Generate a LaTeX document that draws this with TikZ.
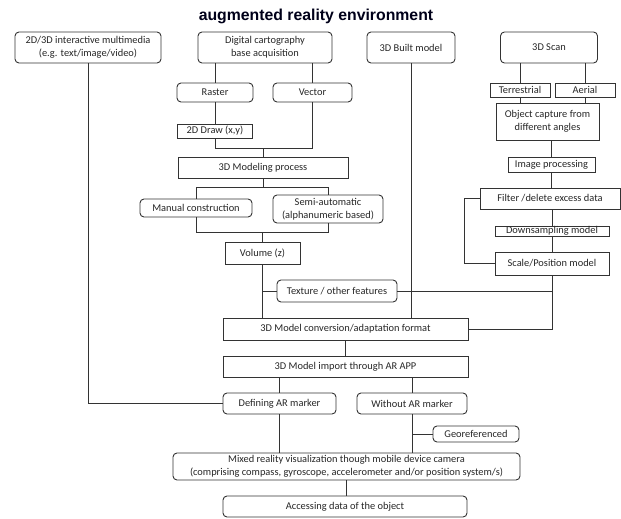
\documentclass[tikz,border=0pt]{standalone}
\usepackage{fontspec}
\setmainfont{Carlito}
\newfontfamily\titlefont{Liberation Sans}
\begin{document}
\begin{tikzpicture}[x=1pt,y=-1pt,
  base/.style={draw=black!80, line width=0.9pt, inner sep=0pt, align=center,
    font=\fontsize{10.4}{13}\selectfont, text=black!85},
  rbox/.style={base, rounded corners=4pt},
  sbox/.style={base},
  conn/.style={draw=black!80, line width=0.9pt}]
\useasboundingbox (0,0) rectangle (621,519);
\node[font=\titlefont\bfseries\fontsize{15.8}{18}\selectfont, text=black!90!blue] (title) at (316,16) {augmented reality environment};
% top row
\node[rbox, minimum width=146pt, minimum height=31pt] (mm) at (88,47.5) {2D/3D interactive multimedia\\(e.g. text/image/video)};
\node[rbox, minimum width=134pt, minimum height=31pt] (dc) at (265,47.5) {Digital cartography\\base acquisition};
\node[rbox, minimum width=88pt, minimum height=31pt] (bm) at (411,47.5) {3D Built model};
\node[rbox, minimum width=97pt, minimum height=31pt] (sc) at (549,47.5) {3D Scan};
% left branch
\node[rbox, minimum width=76pt, minimum height=19pt] (raster) at (215,92.5) {Raster};
\node[rbox, minimum width=79pt, minimum height=19pt] (vector) at (312.5,92.5) {Vector};
\node[sbox, minimum width=75pt, minimum height=14pt] (draw2d) at (215,131) {2D Draw (x,y)};
\node[sbox, minimum width=170pt, minimum height=21pt] (model) at (263,167.5) {3D Modeling process};
\node[rbox, minimum width=112pt, minimum height=18pt] (manual) at (196,208) {Manual construction};
\node[rbox, minimum width=110pt, minimum height=28pt] (semi) at (328,209) {Semi-automatic\\(alphanumeric based)};
\node[sbox, minimum width=75pt, minimum height=22pt] (volume) at (262.5,253) {Volume (z)};
\node[rbox, minimum width=120pt, minimum height=22pt] (texture) at (337,291) {Texture / other features};
% scan branch
\node[sbox, minimum width=60pt, minimum height=14pt] (terr) at (520,90) {Terrestrial};
\node[sbox, minimum width=60pt, minimum height=14pt] (aerial) at (585,90) {Aerial};
\node[sbox, minimum width=103pt, minimum height=37pt] (objcap) at (547.5,121.5) {Object capture from\\different angles};
\node[sbox, minimum width=87pt, minimum height=15pt] (imgp) at (551.5,164.5) {Image processing};
\node[sbox, minimum width=140pt, minimum height=21pt] (filter) at (550,198.5) {Filter /delete excess data};
\node[sbox, minimum width=114pt, minimum height=10pt] (downs) at (552,231) {Downsampling model};
\node[sbox, minimum width=114pt, minimum height=23pt] (scale) at (552,263.5) {Scale/Position model};
% lower chain
\node[sbox, minimum width=245pt, minimum height=22pt] (conv) at (345.5,329) {3D Model conversion/adaptation format};
\node[sbox, minimum width=245pt, minimum height=21pt] (import) at (345.5,366.5) {3D Model import through AR APP};
\node[rbox, minimum width=113pt, minimum height=21pt] (defining) at (279.5,403.5) {Defining AR marker};
\node[rbox, minimum width=110pt, minimum height=21pt] (without) at (412,403.5) {Without AR marker};
\node[rbox, minimum width=86pt, minimum height=16pt] (georef) at (476,434) {Georeferenced};
\node[rbox, minimum width=347pt, minimum height=27pt] (mixed) at (346.5,466.5) {Mixed reality visualization though mobile device camera\\(comprising compass, gyroscope, accelerometer and/or position system/s)};
\node[rbox, minimum width=244pt, minimum height=21pt] (access) at (345,506.5) {Accessing data of the object};
% connectors
\draw[conn] (raster.north) -- (raster.north |- dc.south);
\draw[conn] (vector.north) -- (vector.north |- dc.south);
\draw[conn] (raster.south) -- (draw2d.north);
\draw[conn] (draw2d.south) -- ++(0,10) coordinate (j1) -| (vector.south);
\draw[conn] (model.north) -- (model.north |- j1);
\draw[conn] (manual.north) -- ++(0,-11) coordinate (j2) -| (semi.north);
\draw[conn] (model.south) -- (model.south |- j2);
\draw[conn] (manual.south) -- ++(0,15) coordinate (j3) -| (semi.south);
\draw[conn] (volume.north) -- (volume.north |- j3);
\draw[conn] (volume.south) -- (volume.south |- conv.north);
\draw[conn] (texture.west) -- (texture.west -| volume.south);
\draw[conn] (texture.east) -- (texture.east -| scale.south);
\draw[conn] (scale.south) |- (conv.east);
\draw[conn] (bm.south) -- (bm.south |- conv.north);
\draw[conn] (terr.north) -- (terr.north |- sc.south);
\draw[conn] (aerial.north) -- (aerial.north |- sc.south);
\draw[conn] (terr.south) -- (terr.south |- objcap.north);
\draw[conn] (aerial.south) -- (aerial.south |- objcap.north);
\draw[conn] (imgp.north) -- (imgp.north |- objcap.south);
\draw[conn] (imgp.south) -- (imgp.south |- filter.north);
\draw[conn] (downs.north) -- (downs.north |- filter.south);
\draw[conn] (downs.south) -- (scale.north);
\draw[conn] (filter.west) -- ++(-15,0) |- (scale.west);
\draw[conn] (conv.south) -- (import.north);
\draw[conn] (defining.north) -- (defining.north |- import.south);
\draw[conn] (without.north) -- (without.north |- import.south);
\draw[conn] (mm.south) |- (defining.west);
\draw[conn] (defining.south) -- (defining.south |- mixed.north);
\draw[conn] (without.south) -- (without.south |- mixed.north);
\draw[conn] (georef.west) -- (georef.west -| without.south);
\draw[conn] (mixed.south) -- (mixed.south |- access.north);
\end{tikzpicture}
\end{document}
